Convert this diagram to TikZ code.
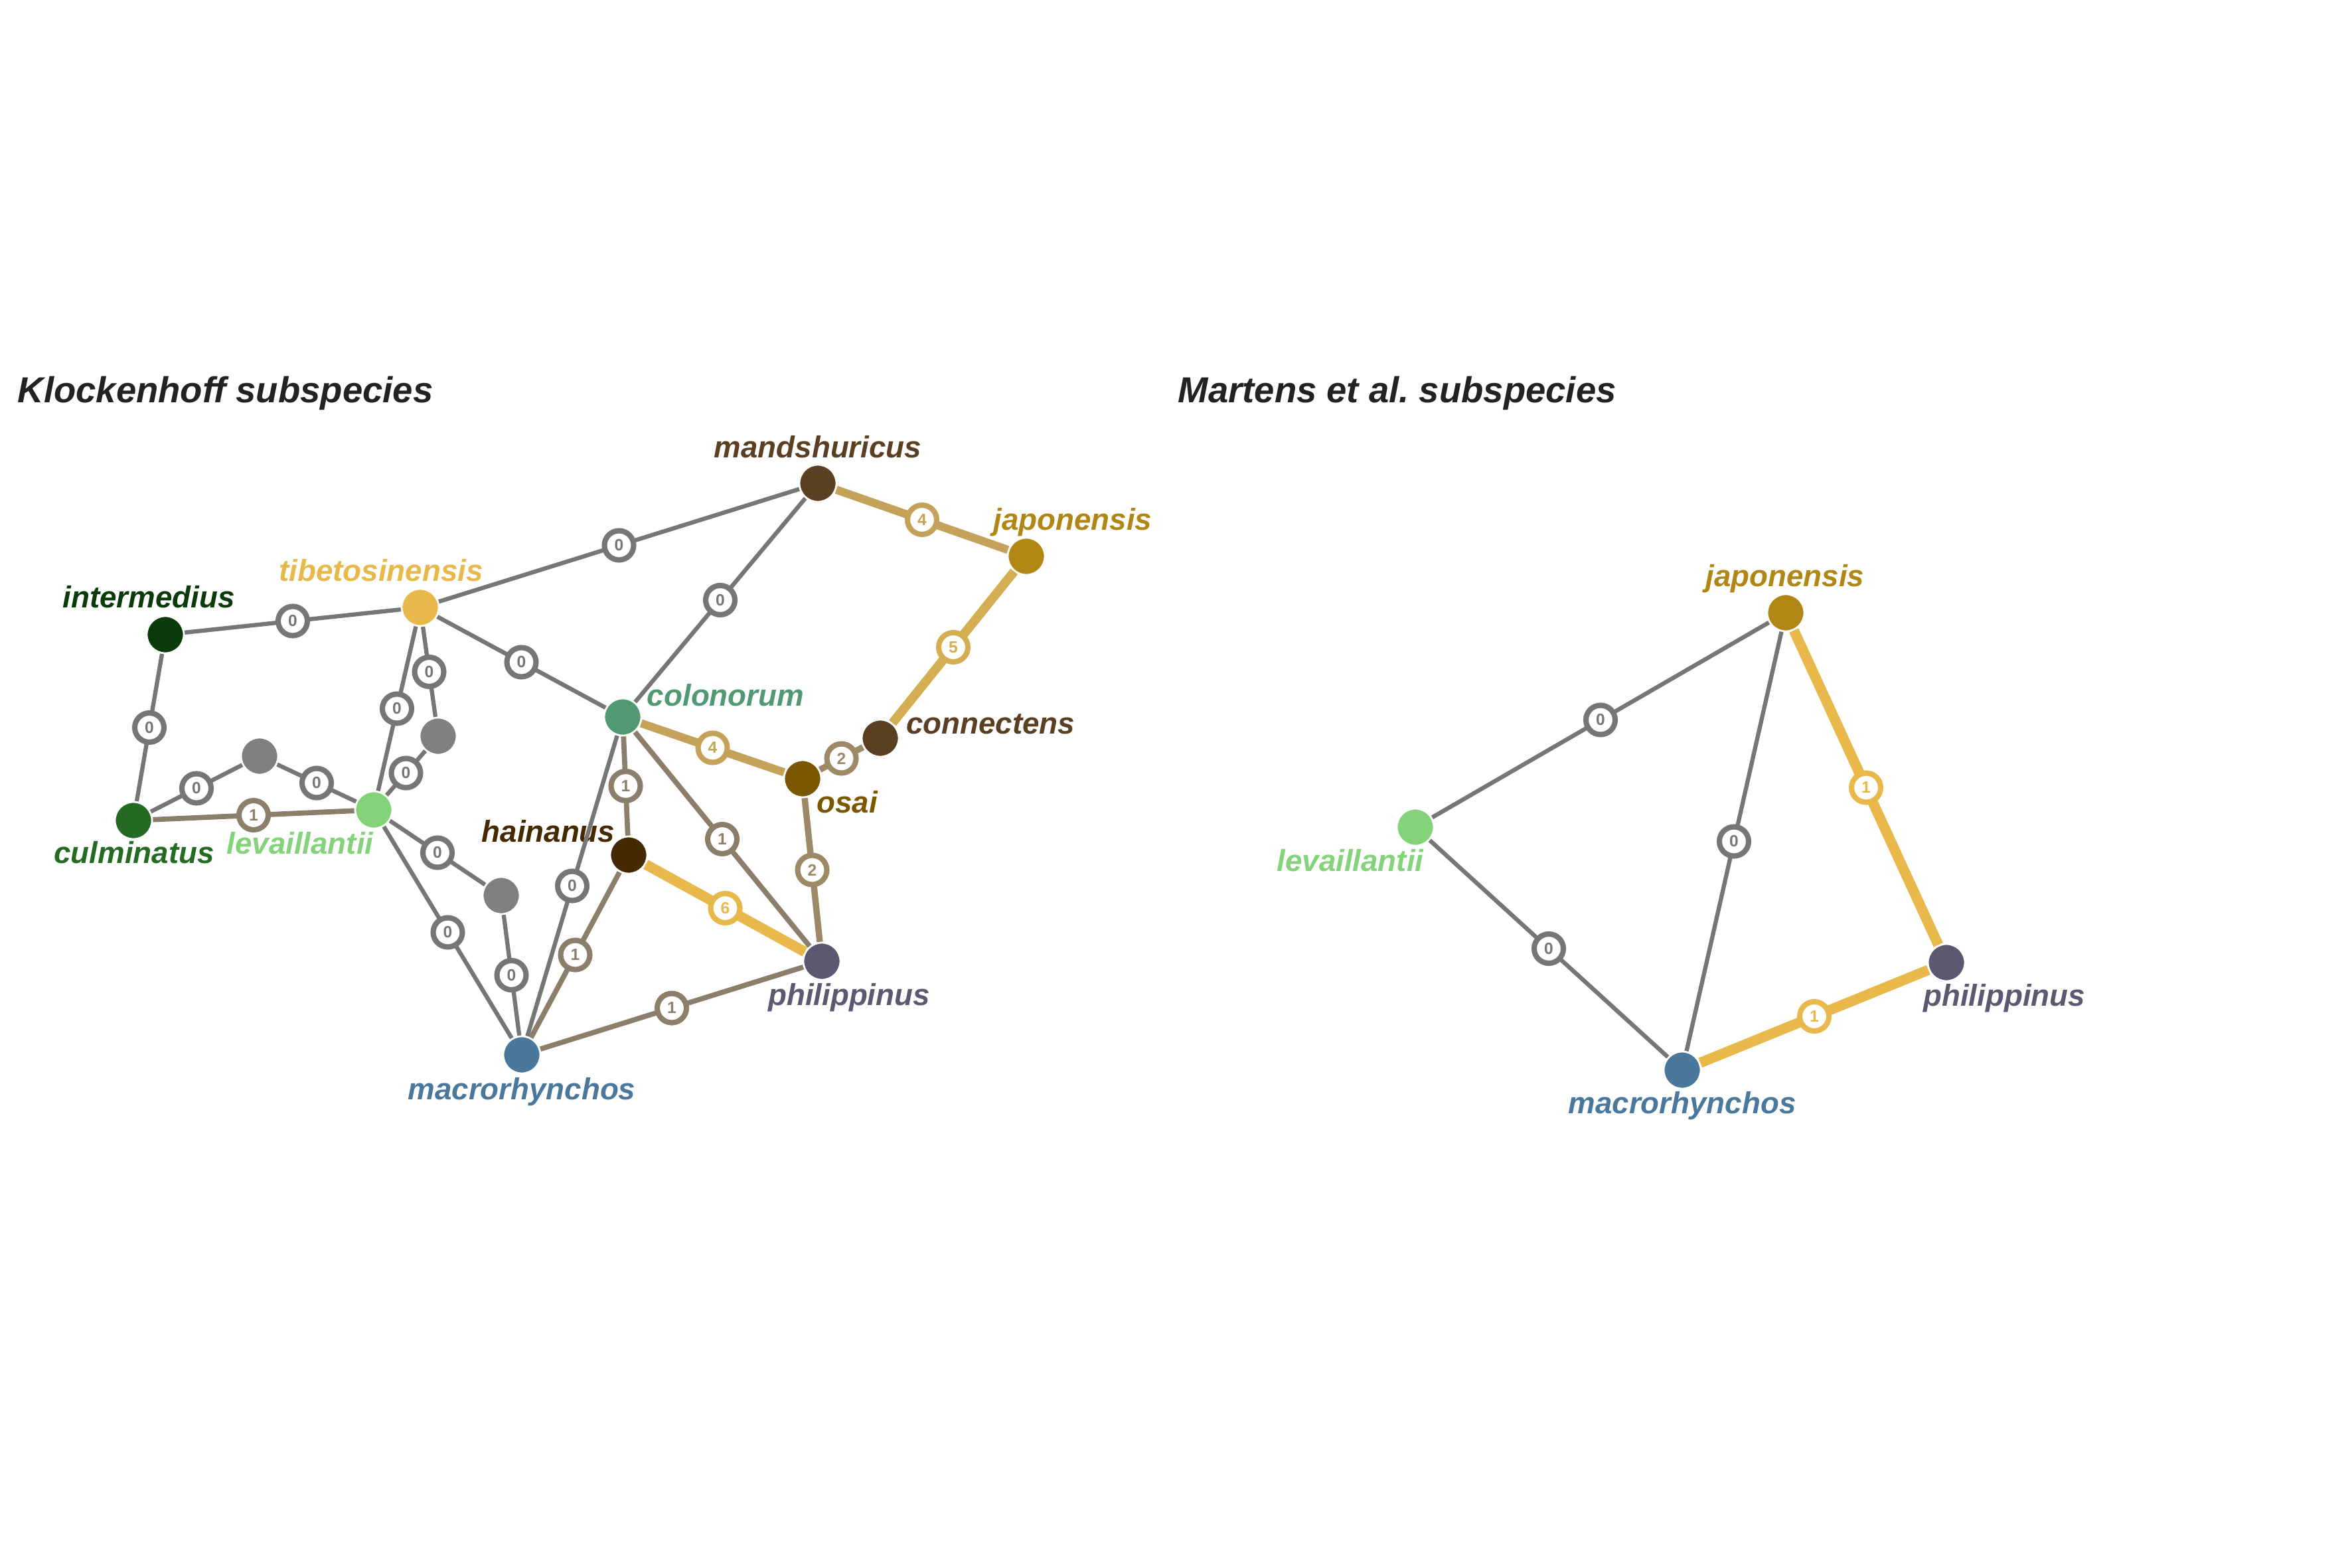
\documentclass[tikz,border=0pt]{standalone}
\usepackage{fontspec}
\setmainfont{Liberation Sans}
\usepackage{xcolor}
\usepackage{tikz}
\usetikzlibrary{positioning}

\definecolor{titlegray}{HTML}{222222}
\definecolor{wzero}{HTML}{767676}
\definecolor{wone}{HTML}{8B7E6A}
\definecolor{wtwo}{HTML}{9E8966}
\definecolor{wfour}{HTML}{C4A25A}
\definecolor{wfive}{HTML}{D4AE50}
\definecolor{wsix}{HTML}{E8B84A}
\definecolor{cmand}{HTML}{5A3F22}
\definecolor{cjap}{HTML}{B08715}
\definecolor{ctib}{HTML}{E8B84A}
\definecolor{cinter}{HTML}{0B3B0B}
\definecolor{ccolo}{HTML}{519972}
\definecolor{cosai}{HTML}{7A5700}
\definecolor{cgrey}{HTML}{808080}
\definecolor{cculm}{HTML}{246A22}
\definecolor{cleva}{HTML}{84D27A}
\definecolor{chain}{HTML}{452900}
\definecolor{cphil}{HTML}{5B596F}
\definecolor{cmacro}{HTML}{4A789C}

\tikzset{
    sp/.style={circle, draw=white, line width=0.8pt, fill=#1, minimum size=0.56cm, inner sep=0pt},
    spname/.style={text=#1, anchor=base, inner sep=0pt, font=\bfseries\itshape\fontsize{13}{15}\selectfont},
    paneltitle/.style={text=titlegray, anchor=base west, inner sep=0pt, font=\bfseries\itshape\fontsize{15.5}{18}\selectfont},
    cnt/.style={circle, draw=#1, text=#1, fill=white, line width=2.3pt, minimum size=0.44cm, inner sep=0pt, font=\bfseries\fontsize{7}{8}\selectfont},
    k0/.style={draw=wzero, line width=1.8pt},
    k1/.style={draw=wone, line width=2.2pt},
    k2/.style={draw=wtwo, line width=2.7pt},
    k4/.style={draw=wfour, line width=3.5pt},
    k5/.style={draw=wfive, line width=3.9pt},
    k6/.style={draw=wsix, line width=4.4pt},
}

\begin{document}
\begin{tikzpicture}
    \useasboundingbox (0,0) rectangle (35.43,-23.62);

    % Titoli dei pannelli
    \node[paneltitle] (tleft) at (0.26,-6.06) {Klockenhoff subspecies};
    \node[paneltitle] (tright) at (17.74,-6.06) {Martens et al.\ subspecies};

    % Pannello sinistro: sottospecie
    \node[sp=cmand] (mand) at (12.32,-7.28) {};
    \node[sp=cjap] (jap) at (15.46,-8.38) {};
    \node[sp=ctib] (tib) at (6.33,-9.15) {};
    \node[sp=cinter] (inter) at (2.49,-9.56) {};
    \node[sp=ccolo] (colo) at (9.38,-10.80) {};
    \node[sp=cmand] (conn) at (13.26,-11.12) {};
    \node[sp=cosai] (osai) at (12.09,-11.73) {};
    \node[sp=cgrey] (ga) at (3.91,-11.39) {};
    \node[sp=cgrey] (gb) at (6.60,-11.09) {};
    \node[sp=cculm] (culm) at (2.01,-12.36) {};
    \node[sp=cleva] (leva) at (5.63,-12.20) {};
    \node[sp=chain] (hain) at (9.47,-12.88) {};
    \node[sp=cgrey] (gc) at (7.55,-13.49) {};
    \node[sp=cphil] (phil) at (12.38,-14.48) {};
    \node[sp=cmacro] (macro) at (7.86,-15.89) {};

    % Nomi (sinistra)
    \node[spname=cmand] (mand-t) at (12.32,-6.89) {mandshuricus};
    \node[spname=cjap] (jap-t) at (16.16,-7.98) {japonensis};
    \node[spname=ctib] (tib-t) at (5.74,-8.75) {tibetosinensis};
    \node[spname=cinter] (inter-t) at (2.24,-9.15) {intermedius};
    \node[spname=ccolo] (colo-t) at (10.93,-10.63) {colonorum};
    \node[spname=cmand] (conn-t) at (14.92,-11.05) {connectens};
    \node[spname=cosai] (osai-t) at (12.76,-12.24) {osai};
    \node[spname=cculm] (culm-t) at (2.02,-13.00) {culminatus};
    \node[spname=cleva] (leva-t) at (4.52,-12.86) {levaillantii};
    \node[spname=chain] (hain-t) at (8.26,-12.68) {hainanus};
    \node[spname=cphil] (phil-t) at (12.79,-15.14) {philippinus};
    \node[spname=cmacro] (macro-t) at (7.86,-16.56) {macrorhynchos};

    % Archi a peso zero (grigi)
    \foreach \a/\b in {inter/tib, tib/mand, tib/colo, mand/colo, inter/culm, culm/ga,
        ga/leva, tib/leva, tib/gb, gb/leva, leva/gc, gc/macro, leva/macro, colo/macro} {
        \draw[k0] (\a) -- node[cnt=wzero] {0} (\b);
    }

    % Archi con differenze
    \foreach \a/\b in {culm/leva, colo/hain, colo/phil, hain/macro, macro/phil} {
        \draw[k1] (\a) -- node[cnt=wone] {1} (\b);
    }
    \draw[k2] (osai) -- node[cnt=wtwo] {2} (conn);
    \draw[k2] (osai) -- node[cnt=wtwo] {2} (phil);
    \draw[k4] (mand) -- node[cnt=wfour] {4} (jap);
    \draw[k4] (colo) -- node[cnt=wfour] {4} (osai);
    \draw[k5] (jap) -- node[cnt=wfive] {5} (conn);
    \draw[k6] (hain) -- node[cnt=wsix] {6} (phil);

    % Pannello destro
    \node[sp=cjap] (japR) at (26.90,-9.23) {};
    \node[sp=cleva] (levaR) at (21.32,-12.46) {};
    \node[sp=cphil] (philR) at (29.32,-14.50) {};
    \node[sp=cmacro] (macroR) at (25.34,-16.12) {};

    \node[spname=cjap] (japR-t) at (26.89,-8.83) {japonensis};
    \node[spname=cleva] (levaR-t) at (20.34,-13.12) {levaillantii};
    \node[spname=cphil] (philR-t) at (30.19,-15.15) {philippinus};
    \node[spname=cmacro] (macroR-t) at (25.34,-16.77) {macrorhynchos};

    \foreach \a/\b in {levaR/japR, japR/macroR, levaR/macroR} {
        \draw[k0] (\a) -- node[cnt=wzero] {0} (\b);
    }
    \draw[k6] (japR) -- node[cnt=wsix] {1} (philR);
    \draw[k6] (macroR) -- node[cnt=wsix] {1} (philR);

\end{tikzpicture}
\end{document}
